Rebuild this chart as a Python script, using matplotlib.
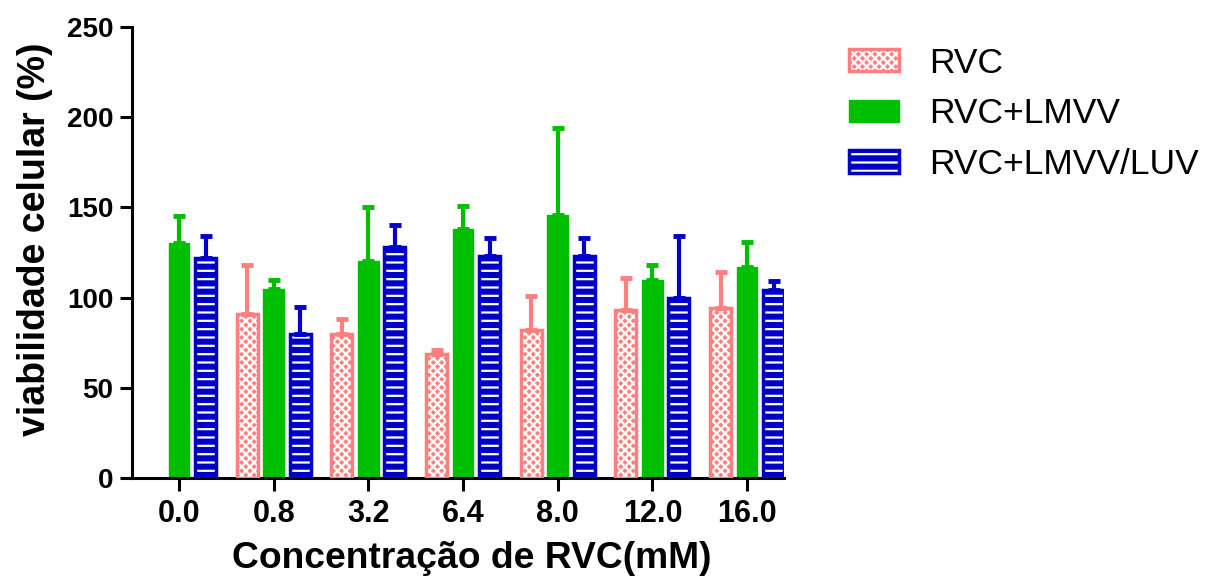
import numpy as np
import matplotlib.pyplot as plt
from matplotlib.patches import Patch
from matplotlib.legend_handler import HandlerTuple

plt.rcParams['font.family'] = ['Liberation Sans', 'DejaVu Sans']
plt.rcParams['hatch.linewidth'] = 1.6

# Data
concentrations = ["0.0", "0.8", "3.2", "6.4", "8.0", "12.0", "16.0"]
rvc = [np.nan, 91, 80, 69, 82, 93, 94]
rvc_err = [0, 27, 8, 2, 19, 18, 20]
rvc_lmvv = [130, 105, 120, 138, 146, 110, 117]
rvc_lmvv_err = [15, 5, 30, 13, 48, 8, 14]
rvc_luv = [122, 80, 128, 123, 123, 100, 104]
rvc_luv_err = [12, 15, 12, 10, 10, 34, 5]

labels = ["RVC", "RVC+LMVV", "RVC+LMVV/LUV"]
colors = ["#FF7F7F", "#00BE00", "#0000C8"]
hatches = ["xxxx", None, "--"]

fig = plt.figure(figsize=(12.08, 5.83), dpi=100)
ax = fig.add_axes([0.109, 0.18, 0.54, 0.774])

x = np.arange(len(concentrations))
width = 0.22
offset = 0.28

handles = []
for i, (vals, errs) in enumerate([(rvc, rvc_err), (rvc_lmvv, rvc_lmvv_err), (rvc_luv, rvc_luv_err)]):
    pos = x + (i - 1) * offset
    c = colors[i]
    if hatches[i]:
        ax.bar(pos, vals, width, color=c, edgecolor="white", hatch=hatches[i], linewidth=0, zorder=2)
        ax.bar(pos, vals, width, fill=False, edgecolor=c, linewidth=2.5, zorder=3)
        h = (Patch(facecolor=c, edgecolor="white", hatch=hatches[i], linewidth=0),
             Patch(fill=False, edgecolor=c, linewidth=2.5))
    else:
        ax.bar(pos, vals, width, color=c, edgecolor=c, linewidth=1, zorder=2)
        h = Patch(facecolor=c, edgecolor=c)
    handles.append(h)
    ax.errorbar(pos, vals, yerr=[np.zeros(len(errs)), errs], fmt="none", ecolor=c,
                elinewidth=3, capsize=4, capthick=3.5, zorder=4)

ax.set_xlim(-0.5, 6.39)
ax.set_ylim(0, 250)
ax.set_yticks(range(0, 251, 50))
ax.set_xticks(x)
ax.set_xticklabels(concentrations)

for s in ["top", "right"]:
    ax.spines[s].set_visible(False)
for s in ["left", "bottom"]:
    ax.spines[s].set_linewidth(2.2)
ax.tick_params(width=2.2, length=9, direction="out")
ax.tick_params(axis="y", labelsize=20, pad=4)
ax.tick_params(axis="x", labelsize=22, pad=6)
for lab in ax.get_xticklabels() + ax.get_yticklabels():
    lab.set_fontweight("bold")

ax.set_xlabel("Concentração de RVC(mM)", fontsize=26.8, fontweight="bold")
ax.set_ylabel("viabilidade celular (%)", fontsize=27, fontweight="bold")
ax.xaxis.set_label_coords(0.521, -0.14)
ax.yaxis.set_label_coords(-0.12, 0.53)

ax.legend(handles, labels, loc="upper left", bbox_to_anchor=(1.1, 0.956), frameon=False,
          borderaxespad=0, borderpad=0,
          fontsize=25.5, handlelength=1.4, handleheight=0.6, handletextpad=0.85,
          labelspacing=0.5, handler_map={tuple: HandlerTuple(ndivide=1)})

fig.savefig("out.png", dpi=100)
